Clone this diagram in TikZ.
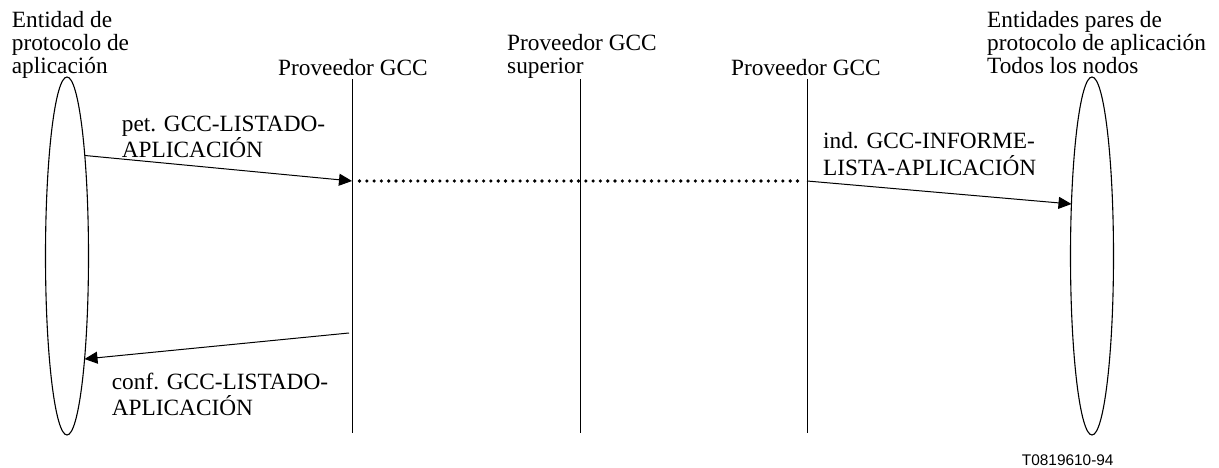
\documentclass[tikz,border=0pt]{standalone}
\usepackage{fontspec}
\setmainfont{Liberation Serif}
\newfontfamily\tagfont{Liberation Sans}
\usetikzlibrary{arrows.meta,shapes.geometric}
\newcommand\mlines[1]{\begin{tabular}[t]{@{}l@{}}#1\end{tabular}}
\begin{document}
\begin{tikzpicture}[x=1pt,y=-1pt,
  lbl/.style={anchor=base west, inner sep=0pt, font=\fontsize{23.3}{22}\selectfont},
  msglbl/.style={anchor=base west, inner sep=0pt, font=\fontsize{23.3}{20.5}\selectfont},
  life/.style={line width=1pt},
  msg/.style={line width=1pt, -{Triangle[length=13pt,width=12pt]}},
  relay/.style={line width=3.6pt, line cap=round, dash pattern=on 0pt off 7.3pt},
  entity/.style={draw, ellipse, line width=1.1pt, minimum width=43pt, minimum height=358pt, inner sep=0pt, outer sep=0pt}]
\useasboundingbox (0,0) rectangle (1219,468);
% entities
\node[entity] (L) at (67,256) {};
\node[entity] (R) at (1092,256) {};
% lifelines
\coordinate (p1t) at (352,79);  \coordinate (p1b) at (352,433);
\coordinate (p2t) at (580,79);  \coordinate (p2b) at (580,433);
\coordinate (p3t) at (807,79);  \coordinate (p3b) at (807,433);
\draw[life] (p1t) -- (p1b);
\draw[life] (p2t) -- (p2b);
\draw[life] (p3t) -- (p3b);
% message points
\coordinate (a1s) at (85,155.5);
\coordinate (a1e) at (352,181);
\coordinate (d1s) at (359.5,181);
\coordinate (d1e) at (804,181);
\coordinate (a3s) at (807,181);
\coordinate (a3e) at (1071.5,204);
\coordinate (a4s) at (349,333);
\coordinate (a4e) at (84.5,359);
\draw[msg] (a1s) -- (a1e);
\draw[relay] (d1s) -- (d1e);
\draw[msg] (a3s) -- (a3e);
\draw[msg] (a4s) -- (a4e);
% labels
\node[lbl] (tL) at (11.7,28) {\mlines{Entidad de\\protocolo de\\aplicación}};
\node[lbl] (tP1) at (278,76) {Proveedor GCC};
\node[lbl] (tP2) at (507,51) {\mlines{Proveedor GCC\\superior}};
\node[lbl] (tP3) at (731,76) {Proveedor GCC};
\node[lbl] (tR) at (987,28) {\mlines{Entidades pares de\\protocolo de aplicación\\Todos los nodos}};
\node[msglbl] (m1) at (121.7,131.5) {\mlines{pet. GCC-LISTADO-\\APLICACIÓN}};
\node[msglbl] (m3) at (823,149) {\mlines{ind. GCC-INFORME-\\LISTA-APLICACIÓN}};
\node[msglbl] (m4) at (111.7,389) {\mlines{conf. GCC-LISTADO-\\APLICACIÓN}};
\node[anchor=base west, inner sep=0pt, font=\tagfont\fontsize{15.4}{18}\selectfont] (tag) at (1021.7,465.5) {T0819610-94};
\end{tikzpicture}
\end{document}
